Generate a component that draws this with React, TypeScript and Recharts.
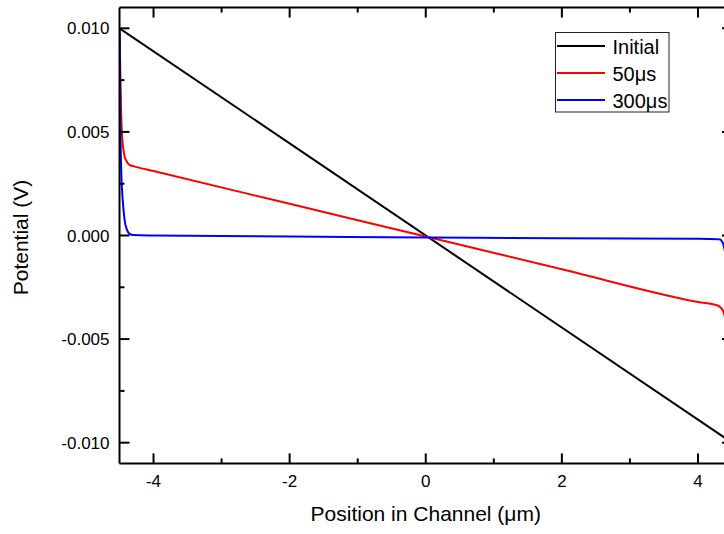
import React from 'react';
import { LineChart, Line, XAxis, YAxis, Legend } from 'recharts';

const FONT = '"Liberation Sans", Arial, Helvetica, sans-serif';

// Series names & colours
const seriesNames = ['Initial', '50μs', '300μs'];
const seriesColors = ['#000000', '#ff0000', '#0000ff'];

// Initial potential profile
const initialX = [-4.5, 4.5];
const initialY = [0.01, -0.01];

// 50 µs profile
const x50 = [-4.5, -4.49, -4.475, -4.46, -4.44, -4.42, -4.4, -4.38, -4.35, -4.3, -4.0, -2.0, 0.0, 2.0, 4.0, 4.3, 4.34, 4.37, 4.4, 4.43, 4.46, 4.48, 4.5];
const y50 = [0.01, 0.0082, 0.0058, 0.0047, 0.0041, 0.00375, 0.00362, 0.0035, 0.0034, 0.00335, 0.00311, 0.00153, -0.00005, -0.00163, -0.00321, -0.00339, -0.0035, -0.00365, -0.004, -0.0047, -0.006, -0.0078, -0.01];

// 300 µs profile
const x300 = [-4.5, -4.497, -4.494, -4.488, -4.474, -4.45, -4.425, -4.39, -4.35, -4.3, -4.0, -2.0, 0.0, 2.0, 4.0, 4.3, 4.33, 4.355, 4.375, 4.4, 4.43, 4.46, 4.5];
const y300 = [0.01, 0.0092, 0.0085, 0.0056, 0.0031, 0.0016, 0.00076, 0.00027, 0.00008, 0.00002, 0.0, -0.00005, -0.0001, -0.00013, -0.00016, -0.00018, -0.0002, -0.0003, -0.00045, -0.0009, -0.0022, -0.0045, -0.01];

// Ticks
const xDomain = [-4.5, 4.5];
const xMajorTicks = [-4, -2, 0, 2, 4];
const xMinorTicks = [-3, -1, 1, 3];
const xTickLabels = ['-4', '-2', '0', '2', '4'];
const yDomain = [-0.011, 0.011];
const yMajorTicks = [-0.01, -0.005, 0, 0.005, 0.01];
const yMinorTicks = [-0.0075, -0.0025, 0.0025, 0.0075];
const yTickLabels = ['-0.010', '-0.005', '0.000', '0.005', '0.010'];

const xTitle = 'Position in Channel (μm)';
const yTitle = 'Potential (V)';

const toRows = (xs: number[], ys: number[]) => xs.map((x, i) => ({ x, y: ys[i] }));
const dataInitial = toRows(initialX, initialY);
const data50 = toRows(x50, y50);
const data300 = toRows(x300, y300);
const seriesData = [dataInitial, data50, data300];

const xTicksAll = [...xMajorTicks, ...xMinorTicks].sort((a, b) => a - b);
const yTicksAll = [...yMajorTicks, ...yMinorTicks].sort((a, b) => a - b);

const majorIndex = (list: number[], v: number) => list.findIndex((t) => Math.abs(t - v) < 1e-9);

const MAJOR = 10;
const MINOR = 5;
const TICK_W = 2;

const BottomTick = (props: any) => {
  const { x, y, payload } = props;
  const idx = majorIndex(xMajorTicks, payload.value);
  const major = idx >= 0;
  return (
    <g>
      <line x1={x} y1={y} x2={x} y2={y - (major ? MAJOR : MINOR)} stroke="#000" strokeWidth={TICK_W} />
      {major && (
        <text x={x} y={y + 24} textAnchor="middle" fontSize={17} fontFamily={FONT} fill="#000">
          {xTickLabels[idx]}
        </text>
      )}
    </g>
  );
};

const TopTick = (props: any) => {
  const { x, y, payload } = props;
  const major = majorIndex(xMajorTicks, payload.value) >= 0;
  return <line x1={x} y1={y} x2={x} y2={y + (major ? MAJOR : MINOR)} stroke="#000" strokeWidth={TICK_W} />;
};

const LeftTick = (props: any) => {
  const { x, y, payload } = props;
  const idx = majorIndex(yMajorTicks, payload.value);
  const major = idx >= 0;
  return (
    <g>
      <line x1={x} y1={y} x2={x + (major ? MAJOR : MINOR)} y2={y} stroke="#000" strokeWidth={TICK_W} />
      {major && (
        <text x={x - 10} y={y + 6} textAnchor="end" fontSize={17} fontFamily={FONT} fill="#000">
          {yTickLabels[idx]}
        </text>
      )}
    </g>
  );
};

const RightTick = (props: any) => {
  const { x, y, payload } = props;
  const major = majorIndex(yMajorTicks, payload.value) >= 0;
  return <line x1={x} y1={y} x2={x - (major ? MAJOR : MINOR)} y2={y} stroke="#000" strokeWidth={TICK_W} />;
};

const XTitle = (props: any) => {
  const vb = props.viewBox || {};
  return (
    <text x={vb.x + vb.width / 2} y={vb.y + 58} textAnchor="middle" fontSize={21} fontFamily={FONT} fill="#000">
      {xTitle}
    </text>
  );
};

const YTitle = (props: any) => {
  const vb = props.viewBox || {};
  const cx = 28.3;
  const cy = vb.y + vb.height / 2 + 2;
  return (
    <text x={cx} y={cy} transform={`rotate(-90, ${cx}, ${cy})`} textAnchor="middle" fontSize={21} fontFamily={FONT} fill="#000">
      {yTitle}
    </text>
  );
};

const LegendBox = () => (
  <svg width={115} height={81} style={{ display: 'block' }}>
    <rect x={0.5} y={0.5} width={113.5} height={79.5} fill="#fff" stroke="#222" strokeWidth={1} />
    {seriesNames.map((name, i) => {
      const ry = 14 + i * 27;
      return (
        <g key={name}>
          <line x1={2} y1={ry} x2={50} y2={ry} stroke={seriesColors[i]} strokeWidth={2} />
          <text x={57.5} y={ry + 7.5} fontSize={20} fontFamily={FONT} fill="#000">
            {name}
          </text>
        </g>
      );
    })}
  </svg>
);

const axisLineStyle = { stroke: '#000', strokeWidth: 2 };

export default function App() {
  return (
    <div style={{ position: 'absolute', left: 0, top: 0, width: 724, height: 534, overflow: 'hidden', background: '#fff' }}>
      <LineChart width={740} height={534} margin={{ top: 0, right: 0, bottom: 0, left: 0 }}>
        <XAxis
          xAxisId="b"
          dataKey="x"
          type="number"
          domain={xDomain}
          ticks={xTicksAll}
          interval={0}
          orientation="bottom"
          height={70.6}
          tickSize={0}
          tickMargin={0}
          tickLine={false}
          axisLine={axisLineStyle}
          tick={BottomTick}
          label={XTitle}
          allowDataOverflow
        />
        <XAxis
          xAxisId="t"
          dataKey="x"
          type="number"
          domain={xDomain}
          ticks={xTicksAll}
          interval={0}
          orientation="top"
          height={7.6}
          tickSize={0}
          tickMargin={0}
          tickLine={false}
          axisLine={axisLineStyle}
          tick={TopTick}
          allowDataOverflow
        />
        <YAxis
          yAxisId="l"
          type="number"
          domain={yDomain}
          ticks={yTicksAll}
          interval={0}
          orientation="left"
          width={119.5}
          tickSize={0}
          tickMargin={0}
          tickLine={false}
          axisLine={axisLineStyle}
          tick={LeftTick}
          label={YTitle}
          allowDataOverflow
        />
        <YAxis
          yAxisId="r"
          type="number"
          domain={yDomain}
          ticks={yTicksAll}
          interval={0}
          orientation="right"
          width={8}
          tickSize={0}
          tickMargin={0}
          tickLine={false}
          axisLine={axisLineStyle}
          tick={RightTick}
          allowDataOverflow
        />
        <Legend
          layout="horizontal"
          verticalAlign="middle"
          align="center"
          wrapperStyle={{ position: 'absolute', left: 555, top: 32, width: 115, height: 81 }}
          content={() => <LegendBox />}
        />
        {seriesData.map((d, i) => (
          <Line
            key={seriesNames[i]}
            xAxisId="b"
            yAxisId="l"
            data={d}
            dataKey="y"
            name={seriesNames[i]}
            type="monotone"
            stroke={seriesColors[i]}
            strokeWidth={2}
            dot={false}
            activeDot={false}
            isAnimationActive={false}
          />
        ))}
      </LineChart>
    </div>
  );
}
